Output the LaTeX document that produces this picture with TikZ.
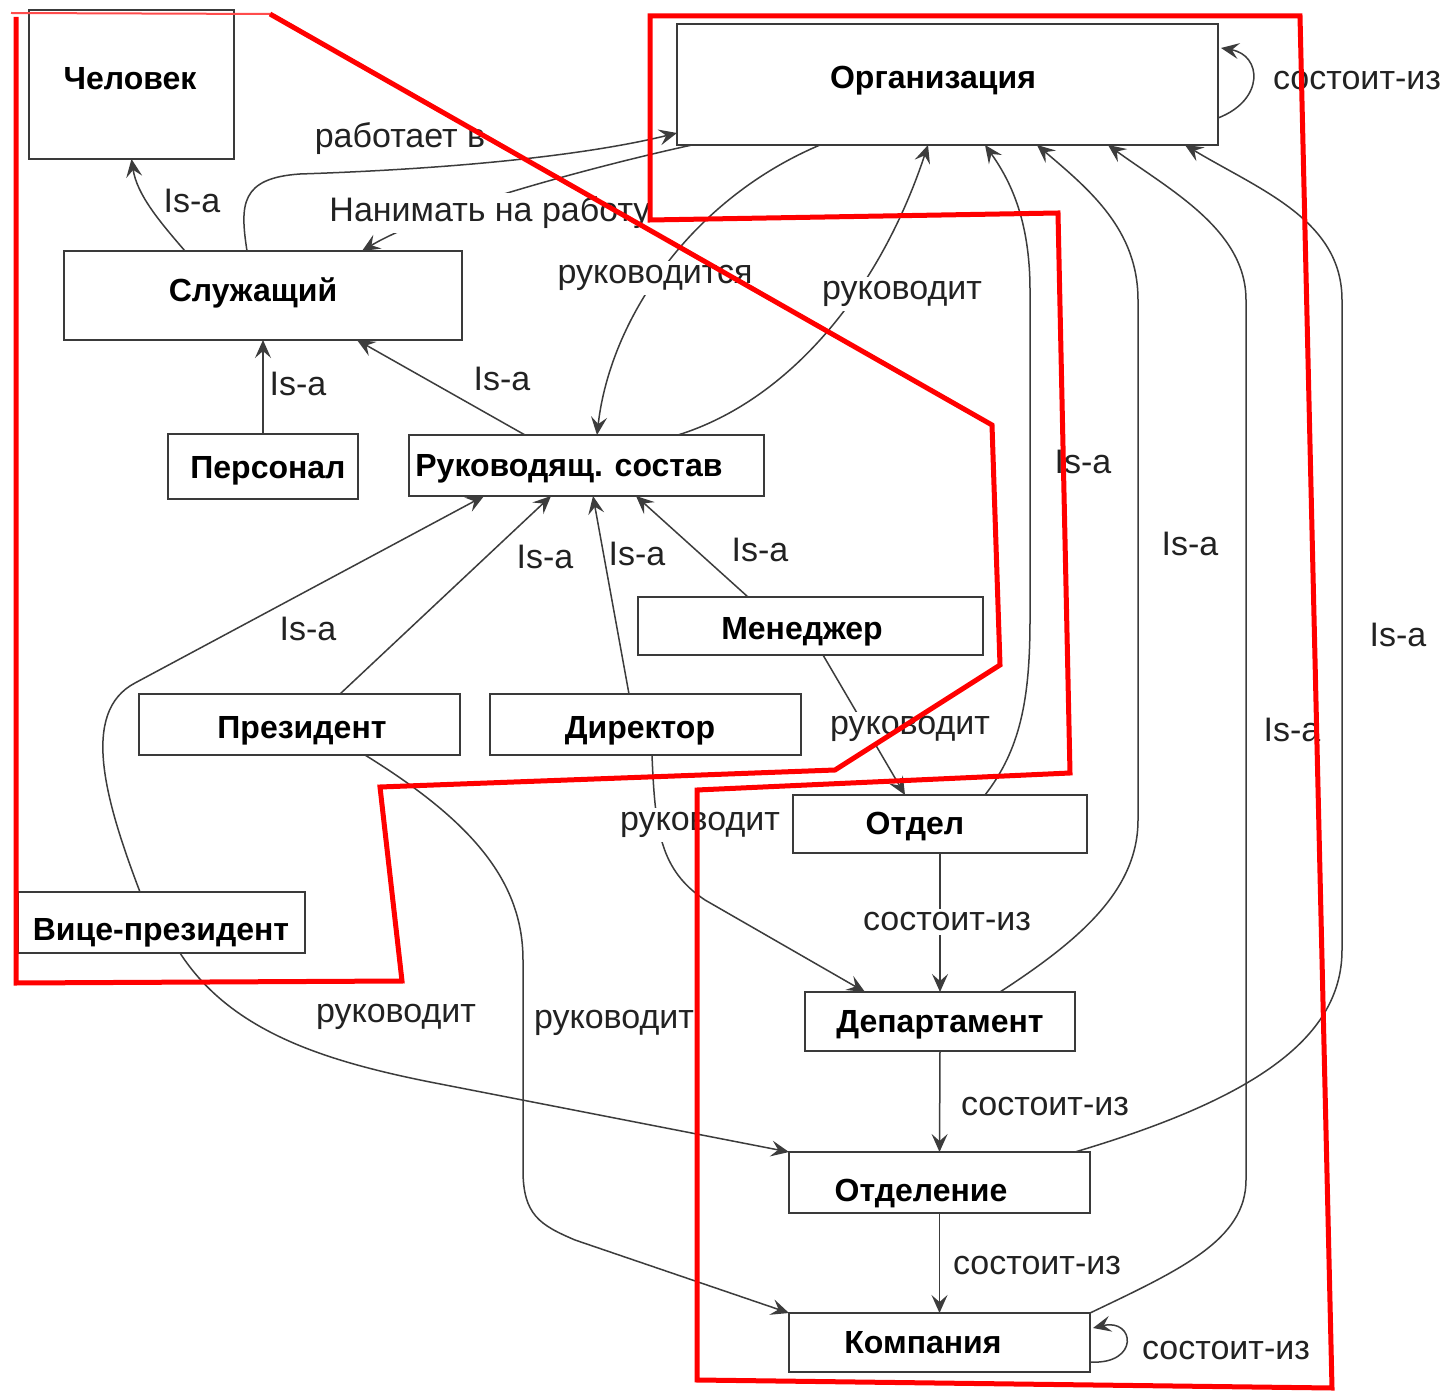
\documentclass[tikz,border=0pt]{standalone}
\usepackage{fontspec}
\setmainfont{Liberation Sans}
\usetikzlibrary{arrows.meta,calc}
\definecolor{boxc}{HTML}{3A3A3A}
\definecolor{linec}{HTML}{3C3C3C}
\definecolor{labc}{HTML}{222222}
\definecolor{redc}{HTML}{FF0000}
\begin{document}
\begin{tikzpicture}[x=0.5pt,y=0.5pt,
  box/.style={draw=boxc, line width=1pt, fill=white, inner sep=0pt, outer sep=0pt},
  nt/.style={font=\fontsize{16}{19}\selectfont\bfseries, text=black, inner sep=0pt, anchor=base},
  lab/.style={font=\fontsize{17}{20}\selectfont, text=labc, inner sep=1pt},
  labw/.style={lab, fill=white, inner sep=2pt},
  con/.style={draw=linec, line width=0.75pt, -{Stealth[length=9pt,width=8pt,inset=3.5pt]}},
  redl/.style={draw=redc, line width=2.5pt, line join=miter}]
\useasboundingbox (0,0) rectangle (1447,-1391);
\fill[white] (0,0) rectangle (1447,-1391);

% boxes
\node[box, minimum width=102.5pt, minimum height=74.5pt] (chel) at (131.5,-84.5) {};
\node[box, minimum width=270.5pt, minimum height=60.5pt] (org) at (947.5,-84.5) {};
\node[box, minimum width=199pt, minimum height=44.5pt] (sluzh) at (263,-295.5) {};
\node[box, minimum width=95pt, minimum height=32.5pt] (pers) at (263,-466.5) {};
\node[box, minimum width=177.5pt, minimum height=30.5pt] (ruk) at (586.5,-465.5) {};
\node[box, minimum width=172.5pt, minimum height=29pt] (men) at (810.5,-626) {};
\node[box, minimum width=160.5pt, minimum height=30.5pt] (pres) at (299.5,-724.5) {};
\node[box, minimum width=155.5pt, minimum height=30.5pt] (dir) at (645.5,-724.5) {};
\node[box, minimum width=143.5pt, minimum height=30.5pt] (vice) at (161.5,-922.5) {};
\node[box, minimum width=147pt, minimum height=29pt] (otdel) at (940,-824) {};
\node[box, minimum width=135pt, minimum height=29.5pt] (dep) at (940,-1021.5) {};
\node[box, minimum width=150.5pt, minimum height=30.5pt] (otdn) at (939.5,-1182.5) {};
\node[box, minimum width=150.5pt, minimum height=29.5pt] (komp) at (939.5,-1342.5) {};

% box texts
\node[nt] (chel-t) at (130,-89.5) {Человек};
\node[nt] (org-t) at (933,-88.5) {Организация};
\node[nt] (sluzh-t) at (253,-301.5) {Служащий};
\node[nt] (pers-t) at (268,-478.5) {Персонал};
\node[nt] (ruk-t) at (569,-476.5) {Руководящ. состав};
\node[nt] (men-t) at (802,-639.5) {Менеджер};
\node[nt] (pres-t) at (302,-738.5) {Президент};
\node[nt] (dir-t) at (640,-738.5) {Директор};
\node[nt] (vice-t) at (161,-940.5) {Вице-президент};
\node[nt] (otdel-t) at (915,-834.5) {Отдел};
\node[nt] (dep-t) at (940,-1032.5) {Департамент};
\node[nt] (otdn-t) at (921,-1201.5) {Отделение};
\node[nt] (komp-t) at (923,-1353.5) {Компания};

% connectors
\draw[con] ($(sluzh.north west)+(121,0)$) .. controls (160,-222) and (137,-195) .. (chel.south);
\node[lab] (l1) at (192,-201) {Is-a};

\draw[con] ($(sluzh.north west)+(183,0)$) .. controls (240,-205) and (240,-178) .. (300,-174)
  .. controls (480,-168) and (600,-152) .. ($(org.south west)+(0,12)$);
\node[lab] (l2) at (400,-139) {работает в};

\draw[con] ($(org.south west)+(15,0)$) .. controls (600,-165) and (430,-210) .. ($(sluzh.north west)+(298,0)$);
\node[labw] (l3) at (490,-213) {Нанимать на работу};

\draw[con] ($(org.south west)+(143,0)$) .. controls (690,-200) and (610,-320) .. ($(ruk.north west)+(188,0)$);
\node[labw] (l4) at (655,-278) {руководится};

\draw[con] ($(ruk.north west)+(269,0)$) .. controls (790,-400) and (880,-290) .. ($(org.south west)+(251,0)$);
\node[labw] (l5) at (902,-294) {руководит};

\draw[con] (pers.north) -- (sluzh.south);
\node[lab] (l6) at (298,-384) {Is-a};

\draw[con] ($(ruk.north west)+(116,0)$) -- ($(sluzh.south west)+(293,0)$);
\node[lab] (l7) at (502,-379) {Is-a};

\draw[con] ($(vice.north west)+(122,0)$) .. controls (105,-800) and (80,-712) .. (135,-683) -- ($(ruk.south west)+(75,0)$);
\node[lab] (l8) at (308,-629) {Is-a};

\draw[con] ($(pres.north west)+(201,0)$) -- ($(ruk.south west)+(142,0)$);
\node[lab] (l9) at (545,-557) {Is-a};

\draw[con] ($(dir.north west)+(139,0)$) -- ($(ruk.south west)+(184,0)$);
\node[lab] (l10) at (637,-554) {Is-a};

\draw[con] ($(men.north west)+(110,0)$) -- ($(ruk.south west)+(227,0)$);
\node[lab] (l11) at (760,-550) {Is-a};

\draw[con] ($(men.south west)+(185,0)$) -- ($(otdel.north west)+(112,0)$);
\node[labw] (l12) at (910,-729) {руководит};

\draw[con] ($(dir.south west)+(162,0)$) .. controls (655,-830) and (660,-870) .. (705,-900) -- ($(dep.north west)+(60,0)$);
\node[labw] (l13) at (700,-825) {руководит};

\draw[con] ($(pres.south west)+(226,0)$) .. controls (470,-820) and (523,-880) .. (523,-960) -- (523,-1170)
  .. controls (523,-1215) and (540,-1225) .. (575,-1240) -- (komp.north west);
\node[lab] (l14) at (614,-1023) {руководит};

\draw[con] ($(vice.south west)+(162,0)$) .. controls (230,-1030) and (320,-1060) .. (430,-1082) -- (otdn.north west);
\node[lab] (l15) at (396,-1017) {руководит};

\draw[con] (otdel.south) -- (dep.north);
\node[labw] (l16) at (947,-922) {состоит-из};

\draw[con] (dep.south) -- (otdn.north);
\node[lab] (l17) at (1045,-1107) {состоит-из};

\draw[con] (otdn.south) -- (komp.north);
\node[lab] (l18) at (1037,-1266) {состоит-из};

\draw[con] ($(komp.south east)+(0,10)$) .. controls (1140,-1365) and (1135,-1318) .. ($(komp.north east)+(3,-15)$);
\node[lab] (l19) at (1226,-1351) {состоит-из};

\draw[con] ($(org.south east)+(0,27)$) .. controls (1265,-100) and (1262,-55) .. ($(org.north east)+(3,-24)$);
\node[lab] (l20) at (1357,-81) {состоит-из};

\draw[con] ($(otdel.north west)+(192,0)$) .. controls (1020,-750) and (1030,-700) .. (1030,-620) -- (1030,-290)
  .. controls (1030,-220) and (1010,-180) .. ($(org.south west)+(308,0)$);
\node[lab] (l21) at (1083,-462) {Is-a};

\draw[con] ($(dep.north west)+(195,0)$) .. controls (1080,-940) and (1138,-890) .. (1138,-820) -- (1138,-300)
  .. controls (1138,-230) and (1090,-190) .. ($(org.south west)+(360,0)$);
\node[lab] (l22) at (1190,-544) {Is-a};

\draw[con] (komp.north east) .. controls (1180,-1270) and (1246,-1240) .. (1246,-1180) -- (1246,-300)
  .. controls (1246,-230) and (1170,-190) .. ($(org.south west)+(431,0)$);
\node[lab] (l23) at (1292,-730) {Is-a};

\draw[con] ($(otdn.north west)+(286,0)$) .. controls (1250,-1100) and (1342,-1040) .. (1342,-950) -- (1342,-300)
  .. controls (1342,-220) and (1260,-190) .. ($(org.south west)+(508,0)$);
\node[lab] (l24) at (1398,-635) {Is-a};

% red annotations
\draw[redc!70, line width=1pt] (11,-13) -- (270,-14);
\draw[redl] (16,-17) -- (16,-983) -- (402,-981) -- (380,-787) -- (835,-770) -- (1000,-665) -- (992,-425) -- (270,-14);
\draw[redl] (650,-16) -- (1300,-16) -- (1332,-1388) -- (697,-1380) -- (697,-790) -- (1070,-773) -- (1058,-213) -- (650,-220) -- cycle;
\end{tikzpicture}
\end{document}
